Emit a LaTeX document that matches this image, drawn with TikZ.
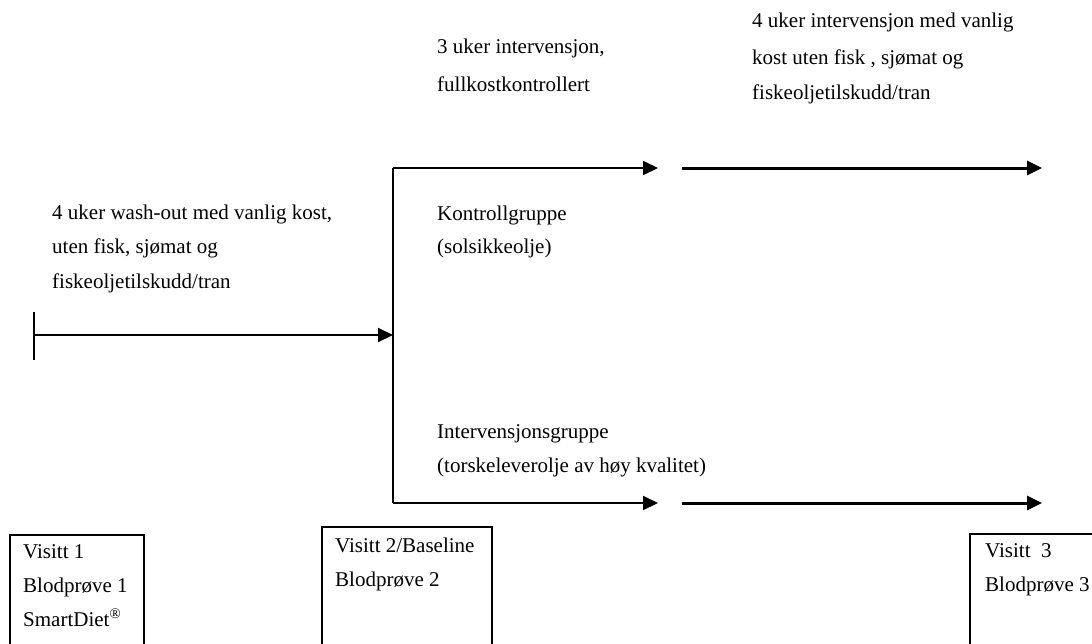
\documentclass[tikz,border=0pt]{standalone}
\usepackage{fontspec}
\setmainfont{Liberation Serif}
\usetikzlibrary{arrows.meta}
\begin{document}
\begin{tikzpicture}[x=1pt,y=-1pt,
  txt/.style={anchor=base west,inner sep=0pt,font=\fontsize{21}{25}\selectfont},
  ln/.style={line width=2pt},
  thick ln/.style={line width=3pt},
  arr/.style={-{Triangle[length=15pt,width=14pt]}},
  visit/.style={draw,line width=1.5pt}]
\useasboundingbox (0,0) rectangle (1092,643);
\begin{scope}
\clip (0,0) rectangle (1092,643);
% coordinates
\coordinate (s) at (34,335);
\coordinate (bt) at (34,312);
\coordinate (bb) at (34,360);
\coordinate (j) at (393,335);
\coordinate (vt) at (393,168);
\coordinate (vb) at (393,503);
\coordinate (t1) at (658,168);
\coordinate (t2s) at (682,168);
\coordinate (t2e) at (1042,168);
\coordinate (b1) at (658,503);
\coordinate (b2s) at (682,503);
\coordinate (b2e) at (1042,503);
% lines
\draw[ln] (bt) -- (bb);
\draw[ln,arr] (s) -- (j);
\draw[ln] (vt) -- (vb);
\draw[ln,arr] (vt) -- (t1);
\draw[ln,arr] (vb) -- (b1);
\draw[thick ln,arr] (t2s) -- (t2e);
\draw[thick ln,arr] (b2s) -- (b2e);
% boxes
\draw[visit] (10,535) rectangle (144,660);
\draw[visit] (322,527) rectangle (492,660);
\draw[visit] (970,534) rectangle (1100,660);
\end{scope}
% texts
\node[txt] (a1) at (437,53) {3 uker intervensjon,};
\node[txt] (a2) at (437,91) {fullkostkontrollert};
\node[txt] (r1) at (752,27) {4 uker intervensjon med vanlig};
\node[txt] (r2) at (752,64) {kost uten fisk , sjømat og};
\node[txt] (r3) at (752,99) {fiskeoljetilskudd/tran};
\node[txt] (w1) at (52,219) {4 uker wash-out med vanlig kost,};
\node[txt] (w2) at (52,253) {uten fisk, sjømat og};
\node[txt] (w3) at (52,288) {fiskeoljetilskudd/tran};
\node[txt] (k1) at (437,220) {Kontrollgruppe};
\node[txt] (k2) at (437,253) {(solsikkeolje)};
\node[txt] (i1) at (437,438) {Intervensjonsgruppe};
\node[txt] (i2) at (437,472) {(torskeleverolje av høy kvalitet)};
\node[txt] (v11) at (23,558) {Visitt 1};
\node[txt] (v12) at (23,592) {Blodprøve 1};
\node[txt] (v13) at (23,626) {SmartDiet\textsuperscript{®}};
\node[txt] (v21) at (335,552) {Visitt 2/Baseline};
\node[txt] (v22) at (335,586) {Blodprøve 2};
\node[txt] (v31) at (985,557) {Visitt\ \ 3};
\node[txt] (v32) at (985,591) {Blodprøve 3};
\end{tikzpicture}
\end{document}
